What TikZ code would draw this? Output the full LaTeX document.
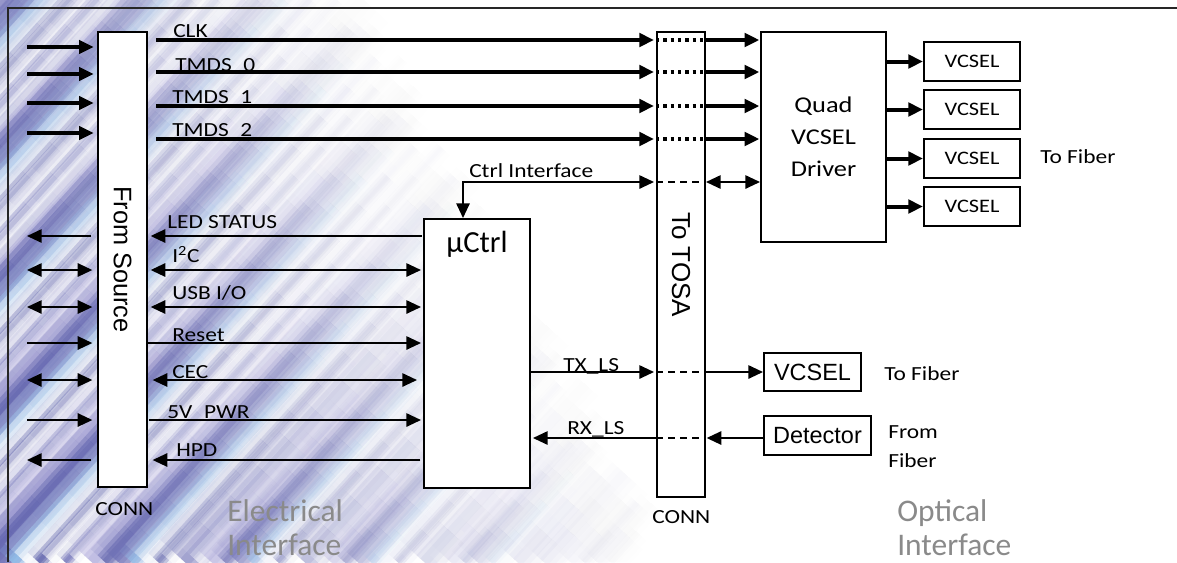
\documentclass[tikz,border=0pt]{standalone}
\usepackage{fontspec}
\setmainfont{Carlito}
\newfontfamily\calw{Carlito}[FakeStretch=1.17]
\newfontfamily\arl{Liberation Sans}
\usetikzlibrary{arrows.meta,fit}
\definecolor{stpurple}{RGB}{108,110,182}
\definecolor{stblue}{RGB}{145,192,235}
\definecolor{stlav}{RGB}{175,170,220}
\definecolor{stdeep}{RGB}{88,92,168}
\definecolor{labgray}{RGB}{138,138,138}
\newcommand\fsig{\calw\fontsize{15}{18}\selectfont}
\tikzset{
  Tr/.tip={Triangle[length=11pt,width=10pt]},
  box/.style={draw=black, fill=white, line width=1.5pt, inner sep=0pt},
  bigarr/.style={line width=3pt, -Tr},
  lthk/.style={line width=2.6pt, -Tr},
  thn/.style={line width=1.4pt},
  dotln/.style={line width=3pt, dash pattern=on 2.5pt off 3pt},
  dashln/.style={line width=1.2pt, dash pattern=on 5pt off 4pt},
  sig/.style={font=\fsig, anchor=base west, inner sep=0pt},
  big/.style={font=\fontsize{23.6}{27}\selectfont, text=labgray, anchor=base west, inner sep=0pt},
  note/.style={font=\calw\fontsize{15}{18}\selectfont, anchor=base west, inner sep=0pt},
}
\begin{document}
\begin{tikzpicture}[x=0.75pt,y=-0.75pt]
\useasboundingbox (0,0) rectangle (1177,562);
% background texture
\begin{scope}
\clip (0,0) rectangle (1177,562);
\fill[white] (0,0) rectangle (1177,562);
\foreach \i in {0,...,92}{
  \pgfmathsetmacro\xz{-600+\i*13.3}
  \pgfmathsetmacro\sw{0.75*(12+mod(\i*11,25))}
  \pgfmathsetmacro\swa{1.9*\sw}
  \pgfmathsetmacro\swb{0.6*\sw}
  \pgfmathsetmacro\swc{0.3*\sw}
  \pgfmathtruncatemacro\cc{mod(\i*7+int(\i/3),6)}
  \edef\col{\ifcase\cc stpurple\or stblue\or white\or stlav\or stdeep\else white\fi}
  \foreach \k in {0,...,19}{
    \pgfmathsetmacro\stx{\xz+26.9*\k}
    \pgfmathsetmacro\sty{562-29.6*\k}
    \pgfmathsetmacro\stmx{\stx+13.5}
    \pgfmathsetmacro\stmy{\sty-14.8}
    \pgfmathsetmacro\sg{max(0,min(1,1-\stmx/(400+0.6*\stmy)))}
    \pgfmathsetmacro\sf{\sg*\sg*(0.62+0.38*max(0,\stmy)/562)}
    \pgfmathsetmacro\sop{0.48*\sf}
    \pgfmathsetmacro\sopa{0.17*\sf}
    \ifdim\sop pt>0.004pt
      \draw[line width=\swa pt, draw=\col, draw opacity=\sopa] (\stx,\sty) -- ++(26.9,-29.6);
      \draw[line width=\sw pt, draw=\col, draw opacity=\sop] (\stx,\sty) -- ++(26.9,-29.6);
      \draw[line width=\swb pt, draw=\col, draw opacity=\sop] (\stx,\sty) -- ++(26.9,-29.6);
      \draw[line width=\swc pt, draw=\col, draw opacity=\sop] (\stx,\sty) -- ++(26.9,-29.6);
    \fi
  }
}
\end{scope}
% frame
\draw[line width=1.5pt, black!85] (1177,8) -- (8,8) -- (8,562);
% rows
\coordinate (yclk) at (0,40);
\coordinate (yt0) at (0,72);
\coordinate (yt1) at (0,106);
\coordinate (yt2) at (0,139);
\coordinate (yctl) at (463,182);
\coordinate (yled) at (0,236);
\coordinate (yi2c) at (0,270);
\coordinate (yusb) at (0,307);
\coordinate (yrst) at (0,343);
\coordinate (ycec) at (0,380);
\coordinate (ypwr) at (0,420);
\coordinate (yhpd) at (0,460);
\coordinate (ytx) at (0,372);
\coordinate (yrx) at (0,438);
\coordinate (la) at (0,47);
\coordinate (lb) at (0,74);
\coordinate (lc) at (0,103);
\coordinate (ld) at (0,133);
\coordinate (lx) at (27,0);
% boxes
\node[box, fit={(98,32)(147,487)}] (fs) {};
\node[box, fit={(657,32)(705,497)}] (tosa) {};
\node[box, fit={(424,219)(530,488)}] (uc) {};
\node[box, fit={(761,32)(886,242)}] (qd) {};
\node[box, fit={(924,42)(1020,81)}] (v1) {};
\node[box, fit={(924,90)(1020,129)}] (v2) {};
\node[box, fit={(924,139)(1020,178)}] (v3) {};
\node[box, fit={(924,187)(1020,226)}] (v4) {};
\node[box, fit={(764,353)(861,391)}] (v5) {};
\node[box, fit={(764,416)(871,455)}] (det) {};
% box texts
\node[rotate=-90, font=\arl\fontsize{19}{22}\selectfont] (tfs) at (fs.center) {From Source};
\node[rotate=-90, font=\arl\fontsize{19.5}{22}\selectfont] (ttosa) at (tosa.center) {To TOSA};
\node[font=\fontsize{23}{27}\selectfont] (tuc) at (477,244) {µCtrl};
\node[font=\calw\fontsize{16.9}{24}\selectfont, align=center] (tqd) at (qd.center) {Quad\\VCSEL\\Driver};
\foreach \v in {v1,v2,v3,v4}
  \node[font=\calw\fontsize{14.3}{17}\selectfont] (t\v) at (\v.center) {VCSEL};
\node[font=\arl\fontsize{17.6}{20}\selectfont] (tv5) at (v5.center) {VCSEL};
\node[font=\arl\fontsize{17.6}{20}\selectfont] (tdet) at (det.center) {Detector};
% left side arrows
\foreach \r in {la,lb,lc,ld}
  \draw[lthk, shorten >=2.5pt] (lx |- \r) -- (fs.west |- \r);
\draw[thn, -Tr, shorten <=4.5pt] (fs.west |- yled) -- (lx |- yled);
\draw[thn, Tr-Tr, shorten >=3.5pt] (lx |- yi2c) -- (fs.west |- yi2c);
\draw[thn, Tr-Tr, shorten >=3.5pt] (lx |- yusb) -- (fs.west |- yusb);
\draw[thn, -Tr, shorten >=3.5pt] (lx |- yrst) -- (fs.west |- yrst);
\draw[thn, Tr-Tr, shorten >=3.5pt] (lx |- ycec) -- (fs.west |- ycec);
\draw[thn, -Tr, shorten >=3.5pt] (lx |- ypwr) -- (fs.west |- ypwr);
\draw[thn, -Tr, shorten <=4.5pt] (fs.west |- yhpd) -- (lx |- yhpd);
% source <-> uCtrl
\draw[thn, -Tr, shorten <=1pt, shorten >=2pt] (uc.west |- yled) -- (fs.east |- yled);
\draw[thn, Tr-Tr, shorten <=2pt, shorten >=1.5pt] (fs.east |- yi2c) -- (uc.west |- yi2c);
\draw[thn, Tr-Tr, shorten <=2pt, shorten >=1.5pt] (fs.east |- yusb) -- (uc.west |- yusb);
\draw[thn, -Tr, shorten >=1.5pt] (fs.east |- yrst) -- (uc.west |- yrst);
\draw[thn, Tr-Tr, shorten <=3.5pt, shorten >=4.5pt] (fs.east |- ycec) -- (uc.west |- ycec);
\draw[thn, -Tr, shorten <=1pt, shorten >=1.5pt] (fs.east |- ypwr) -- (uc.west |- ypwr);
\draw[thn, -Tr, shorten <=2pt, shorten >=3.5pt] (uc.west |- yhpd) -- (fs.east |- yhpd);
% high speed lanes
\foreach \r in {yclk,yt0,yt1,yt2}{
  \draw[bigarr, shorten <=6pt, shorten >=1.5pt] (fs.east |- \r) -- (tosa.west |- \r);
  \draw[dotln] (tosa.west |- \r) -- (tosa.east |- \r);
  \draw[bigarr, shorten >=0.5pt] (tosa.east |- \r) -- (qd.west |- \r);
}
% control interface
\draw[thn, Tr-Tr, shorten >=1.5pt] (uc.north -| yctl) -- (yctl) -- (tosa.west |- yctl);
\draw[dashln] (tosa.west |- yctl) -- (tosa.east |- yctl);
\draw[thn, Tr-Tr] (tosa.east |- yctl) -- (qd.west |- yctl);
% TX / RX
\draw[thn, -Tr, shorten >=1.5pt] (uc.east |- ytx) -- (tosa.west |- ytx);
\draw[dashln] (tosa.west |- ytx) -- (tosa.east |- ytx);
\draw[thn, -Tr] (tosa.east |- ytx) -- (v5.west);
\draw[thn, -Tr, shorten >=1.5pt] (tosa.west |- yrx) -- (uc.east |- yrx);
\draw[dashln] (tosa.west |- yrx) -- (tosa.east |- yrx);
\draw[thn, -Tr, shorten >=0.5pt] (det.west |- yrx) -- (tosa.east |- yrx);
% VCSEL outputs
\foreach \v in {v1,v2,v3,v4}
  \draw[bigarr] (qd.east |- \v) -- (\v.west);
% signal labels
\node[sig] (lclk) at (173,37) {CLK};
\node[sig] (lt0) at (175,71) {TMDS\_0};
\node[sig] (lt1) at (172,103) {TMDS\_1};
\node[sig] (lt2) at (172,136) {TMDS\_2};
\node[sig] (lled) at (167,228) {LED STATUS};
\node[sig] (li2c) at (172,262.5) {I\textsuperscript{2}C};
\node[sig] (lusb) at (172,299) {USB I/O};
\node[sig] (lrst) at (172,341) {Reset};
\node[sig] (lcec) at (172,378) {CEC};
\node[sig] (lpwr) at (167,418) {5V\_PWR};
\node[sig] (lhpd) at (176,456.5) {HPD};
\node[sig] (lctl) at (469,177) {Ctrl Interface};
\node[sig] (ltx) at (563,371) {TX\_LS};
\node[sig] (lrx) at (567,434) {RX\_LS};
% other notes
\node[note] (cn1) at (95,515) {CONN};
\node[note] (cn2) at (652,523) {CONN};
\node[note] (tf1) at (1040,163) {To Fiber};
\node[note] (tf2) at (884,380) {To Fiber};
\node[note] (ff1) at (888,438) {From};
\node[note] (ff2) at (888,467) {Fiber};
\node[big] (el1) at (227,521) {Electrical};
\node[big] (el2) at (227,555) {Interface};
\node[big] (op1) at (897,521) {Optical};
\node[big] (op2) at (897,555) {Interface};
\end{tikzpicture}
\end{document}
